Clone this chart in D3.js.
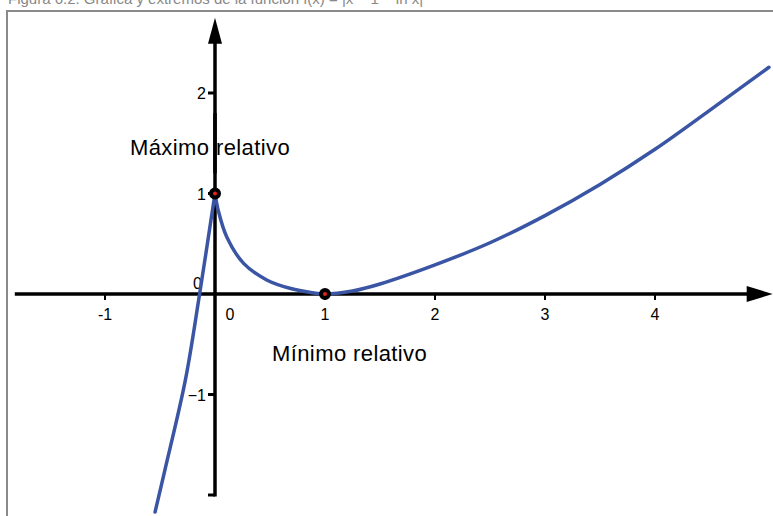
<!DOCTYPE html>
<html>
<head>
<meta charset="utf-8">
<script src="https://cdn.jsdelivr.net/npm/d3@7/dist/d3.min.js"></script>
<style>
  html, body { margin: 0; padding: 0; background: #fff; }
  svg { display: block; }
  text { font-family: "Liberation Sans", Arial, sans-serif; }
</style>
</head>
<body>
<svg id="chart" width="773" height="516"></svg>
<script>
// Curve samples (x, f(x)), left branch up to the cusp and right branch after it
const leftX  = [-0.545, -0.455, -0.27, -0.14, 0];
const leftY  = [-2.17, -1.75, -0.86, 0, 1];
const rightX = [0, 0.03, 0.106, 0.26, 0.47, 0.68, 0.86, 1, 1.25, 1.5, 2, 2.5, 3, 3.5, 4, 4.5, 5.036];
const rightY = [1, 0.83, 0.57, 0.305, 0.14, 0.057, 0.017, 0, 0.03, 0.10, 0.29, 0.51, 0.78, 1.09, 1.44, 1.83, 2.256];

// Relative extrema
const extremaX = [0, 1];
const extremaY = [1, 0];
const extremaLabels = ["Máximo relativo", "Mínimo relativo"];

// Axis ticks
const xTicks = [-1, 1, 2, 3, 4];
const xTickLabels = ["-1", "1", "2", "3", "4"];
const yTicks = [2, 1, -1, -2];
const yTickLabels = ["2", "1", "\u22121", ""];

const svg = d3.select("#chart");

const x = d3.scaleLinear().domain([0, 1]).range([215, 325]);
const y = d3.scaleLinear().domain([0, 1]).range([294, 193.5]);

// caption above the frame (its top runs off the page)
svg.append("text")
  .attr("x", 8).attr("y", 4)
  .attr("font-family", "Open Sans, sans-serif")
  .attr("font-size", 15)
  .attr("fill", "#888")
  .text("Figura 6.2. Gráfica y extremos de la función f(x) = |x − 1 − ln x|");

// frame
svg.append("rect")
  .attr("x", 7).attr("y", 11)
  .attr("width", 820).attr("height", 600)
  .attr("fill", "none")
  .attr("stroke", "#8a8a8a")
  .attr("stroke-width", 2);

const axisColor = "#000";

// x axis
const xMin = -1.82, xMax = 5.07;
svg.append("line")
  .attr("x1", x(xMin)).attr("x2", x(xMax) - 20)
  .attr("y1", y(0)).attr("y2", y(0))
  .attr("stroke", axisColor).attr("stroke-width", 3.5);
svg.append("path")
  .attr("d", `M${x(xMax)},${y(0)} L${x(xMax) - 26},${y(0) - 8} L${x(xMax) - 26},${y(0) + 8} Z`)
  .attr("fill", axisColor);

// y axis
const yMin = -2, yMax = 2.75;
svg.append("line")
  .attr("x1", x(0)).attr("x2", x(0))
  .attr("y1", y(yMin) + 1.5).attr("y2", y(yMax) + 20)
  .attr("stroke", axisColor).attr("stroke-width", 3.5);
svg.append("path")
  .attr("d", `M${x(0)},${y(yMax)} L${x(0) - 7},${y(yMax) + 26} L${x(0) + 7},${y(yMax) + 26} Z`)
  .attr("fill", axisColor);

// x ticks
svg.selectAll(".xt").data(xTicks).join("line")
  .attr("x1", d => x(d)).attr("x2", d => x(d))
  .attr("y1", y(0)).attr("y2", y(0) + 6)
  .attr("stroke", axisColor).attr("stroke-width", 2);
svg.selectAll(".xl").data(xTicks).join("text")
  .attr("x", d => x(d)).attr("y", y(0) + 26)
  .attr("text-anchor", "middle")
  .attr("font-size", 16)
  .text((d, i) => xTickLabels[i]);
svg.append("text")
  .attr("x", x(0) + 15).attr("y", y(0) + 26)
  .attr("text-anchor", "middle").attr("font-size", 16).text("0");

// y ticks
svg.selectAll(".yt").data(yTicks).join("line")
  .attr("x1", x(0) - 7).attr("x2", x(0))
  .attr("y1", d => y(d)).attr("y2", d => y(d))
  .attr("stroke", axisColor).attr("stroke-width", 3);
svg.selectAll(".yl").data(yTicks).join("text")
  .attr("x", x(0) - 9).attr("y", d => y(d) + 6)
  .attr("text-anchor", "end")
  .attr("font-size", 16)
  .text((d, i) => yTickLabels[i]);
svg.append("text")
  .attr("x", x(0) - 13).attr("y", y(0) - 5)
  .attr("text-anchor", "end").attr("font-size", 16).text("0");

// curve: each branch interpolated separately so the cusp at x = 0 stays sharp
const line = d3.line().x(d => x(d[0])).y(d => y(d[1])).curve(d3.curveCatmullRom.alpha(0.5));
const curveColor = "#3a55a4";
[[leftX, leftY], [rightX, rightY]].forEach(([xs, ys]) => {
  svg.append("path")
    .attr("d", line(xs.map((v, i) => [v, ys[i]])))
    .attr("fill", "none")
    .attr("stroke", curveColor)
    .attr("stroke-width", 3.5)
    .attr("stroke-linecap", "round")
    .attr("stroke-linejoin", "round");
});

// extrema markers
const pts = extremaX.map((v, i) => [v, extremaY[i]]);
svg.selectAll(".ext").data(pts).join("circle")
  .attr("cx", d => x(d[0])).attr("cy", d => y(d[1]))
  .attr("r", 4).attr("fill", "#e8221c")
  .attr("stroke", "#000").attr("stroke-width", 4);

// extrema labels
svg.append("text")
  .attr("x", 130).attr("y", 155)
  .attr("font-size", 22).attr("letter-spacing", 0.4)
  .text(extremaLabels[0]);
svg.append("text")
  .attr("x", 272).attr("y", 361)
  .attr("font-size", 22).attr("letter-spacing", 0.4)
  .text(extremaLabels[1]);

// the y axis passes over the maximum label
svg.append("line")
  .attr("x1", x(0)).attr("x2", x(0))
  .attr("y1", y(1.8)).attr("y2", y(1.2))
  .attr("stroke", axisColor).attr("stroke-width", 3.5);
</script>
</body>
</html>
